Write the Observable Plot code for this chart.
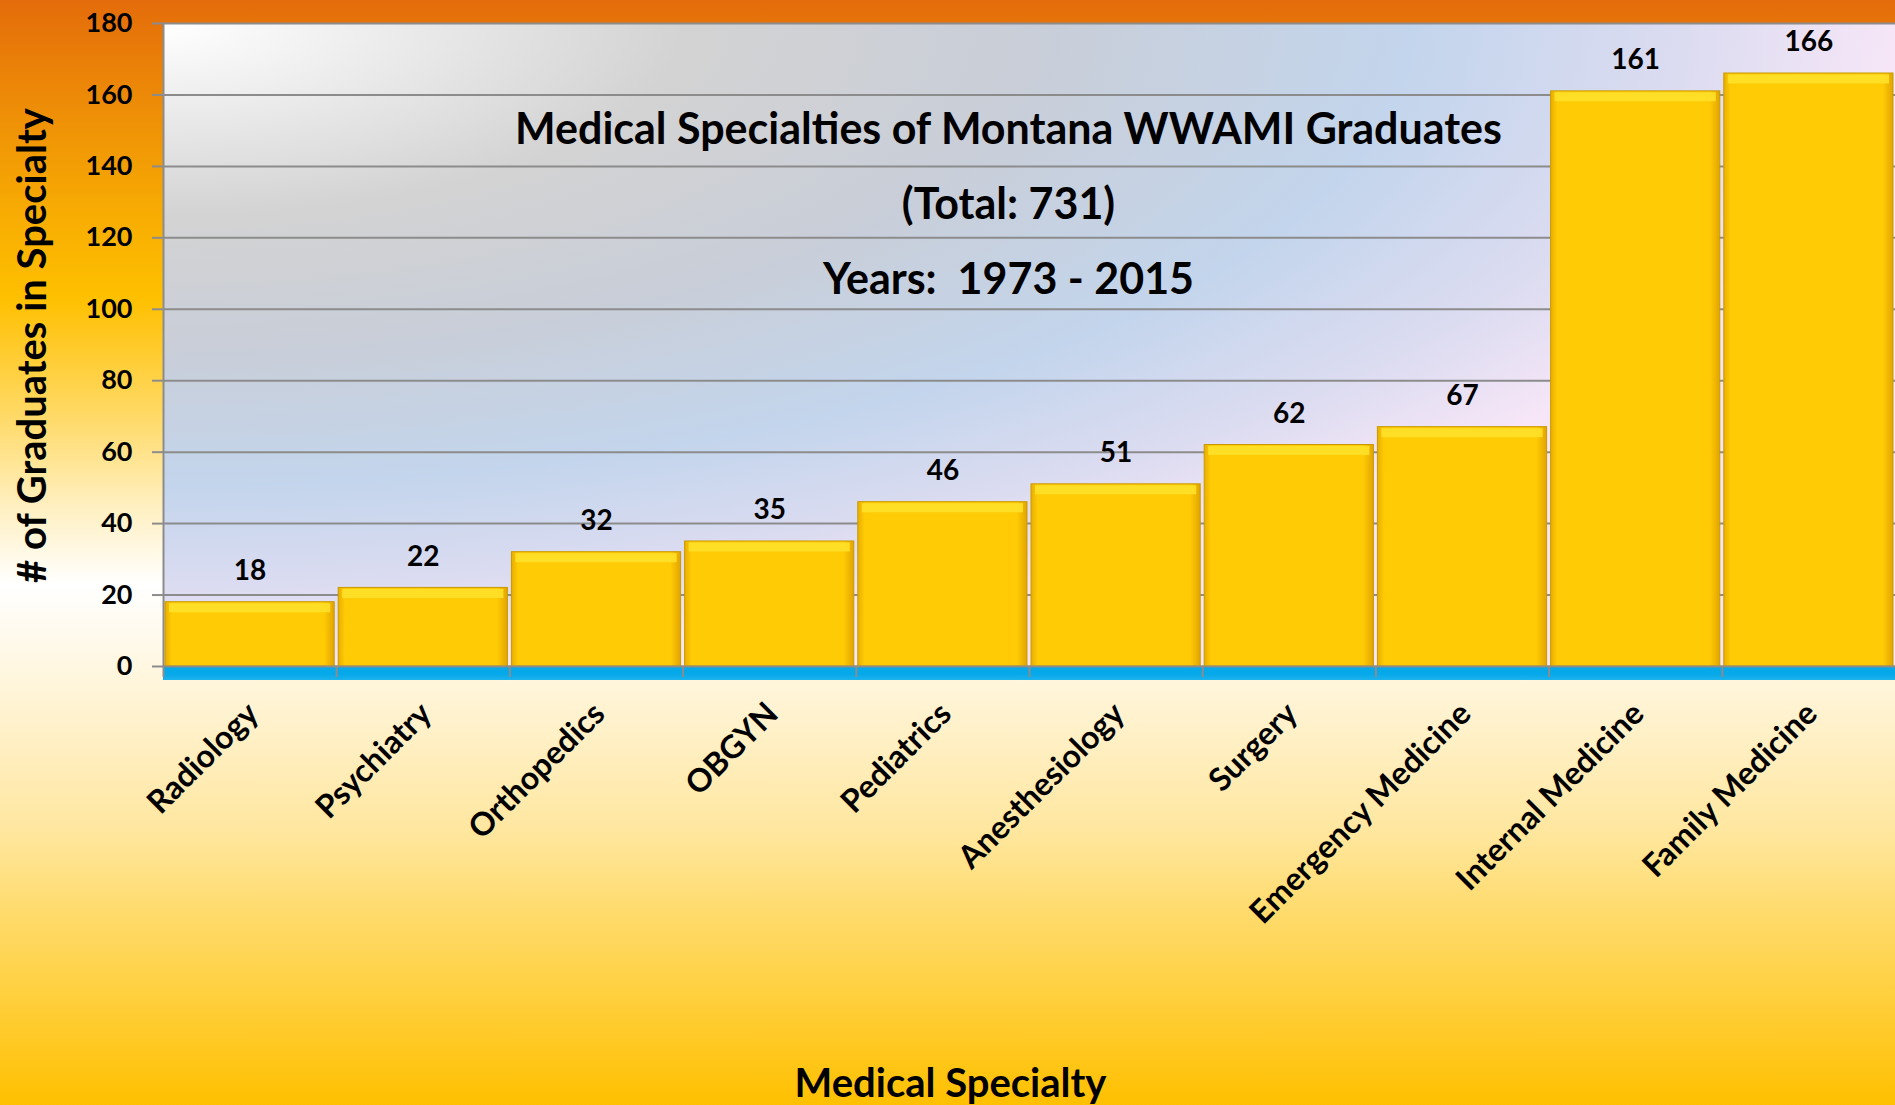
<!DOCTYPE html>
<html>
<head>
<meta charset="utf-8">
<script src="https://cdn.jsdelivr.net/npm/d3@7"></script>
<script src="https://cdn.jsdelivr.net/npm/@observablehq/plot@0.6"></script>
<style>
  html, body { margin: 0; padding: 0; overflow: hidden; }
  #chart svg text { white-space: pre; }
</style>
</head>
<body>
<div id="chart"></div>
<script>
// ---- data ----
const categories = ["Radiology", "Psychiatry", "Orthopedics", "OBGYN", "Pediatrics",
  "Anesthesiology", "Surgery", "Emergency Medicine", "Internal Medicine", "Family Medicine"];
const graduates = [18, 22, 32, 35, 46, 51, 62, 67, 161, 166];
const yTicks = [0, 20, 40, 60, 80, 100, 120, 140, 160, 180];
const titleLines = ["Medical Specialties of Montana WWAMI Graduates", "(Total: 731)", "Years:  1973 - 2015"];
const xAxisTitle = "Medical Specialty";
const yAxisTitle = "# of Graduates in Specialty";

const data = categories.map((c, i) => ({specialty: c, count: graduates[i]}));

// ---- layout ----
const W = 1895, H = 1105;
const mTop = 23, mLeft = 163, mRight = 0, mBottom = 439;
const bw = (W - mLeft - mRight) / categories.length;
const frameCx = mLeft + (W - mLeft - mRight) / 2;
const frameCy = (mTop + H - mBottom) / 2;
const grid = "#8c8c8c";
const titleCenters = [130, 205, 280];

const chart = Plot.plot({
  width: W,
  height: H,
  marginTop: mTop, marginLeft: mLeft, marginRight: mRight, marginBottom: mBottom,
  style: {
    fontFamily: "Lato, 'Open Sans', sans-serif",
    background: "linear-gradient(to bottom, #E46C0A 0%, #EE8E07 10%, #F8AE02 20%, #FFC000 27%, #FFD860 37%, #FFF0C2 46%, #FFFFFF 53%, #FFF4D6 63%, #FFE7A0 75%, #FFDC70 82%, #FFC000 100%)",
    color: "#000"
  },
  x: {type: "band", domain: categories, padding: 0, round: false, label: null},
  y: {domain: [0, 180], label: null},
  marks: [
    Plot.frame({fill: "url(#plotGrad)", stroke: null}),
    Plot.gridY({ticks: yTicks, stroke: grid, strokeOpacity: 1, strokeWidth: 2}),
    Plot.ruleY([0], {stroke: "url(#floorGrad)", strokeWidth: 13, dy: 7}),
    Plot.axisX({tickSize: 11, text: null, dx: -bw / 2, stroke: grid, strokeWidth: 2, label: null}),
    Plot.frame({anchor: "left", stroke: grid, strokeWidth: 2}),
    Plot.barY(data, {x: "specialty", y: "count", fill: "url(#barGrad)", stroke: "#C99A00", strokeWidth: 1, insetLeft: 2, insetRight: 2}),
    Plot.tickY(data, {x: "specialty", y: "count", stroke: "#FFE02A", strokeOpacity: 0.9, strokeWidth: 9, dy: 5.5, insetLeft: 6, insetRight: 6}),
    Plot.ruleY([0], {stroke: grid, strokeWidth: 2}),
    Plot.text(data, {x: "specialty", y: "count", text: d => String(d.count), dy: -31, fontSize: 28, fontWeight: "bold", fill: "#000"}),
    Plot.axisY({ticks: yTicks, tickSize: 11, tickPadding: 20, stroke: grid, strokeWidth: 2, fontSize: 27, fontWeight: "bold", fill: "#000", label: null}),
    Plot.axisX({tickSize: 0, tickRotate: -45, tickPadding: 42, dx: 3, fontSize: 32, fontWeight: "bold", fill: "#000", label: null}),
    ...titleLines.map((t, i) => Plot.text([t], {text: d => d, frameAnchor: "top", textAnchor: "middle", lineAnchor: "middle",
      dx: 1008 - frameCx, dy: titleCenters[i] - mTop, fontSize: 43, fontWeight: "bold", fill: "#000"})),
    Plot.text([xAxisTitle], {text: d => d, frameAnchor: "bottom", textAnchor: "middle", lineAnchor: "middle",
      dx: 950 - frameCx, dy: 1084 - (H - mBottom), fontSize: 40, fontWeight: "bold", fill: "#000"}),
    Plot.text([yAxisTitle], {text: d => d, frameAnchor: "left", textAnchor: "middle", lineAnchor: "middle",
      dx: 33 - mLeft, dy: 345 - frameCy, rotate: -90, fontSize: 40, fontWeight: "bold", fill: "#000"})
  ]
});

// gradients
const y0 = chart.scale("y").apply(0);
const defs = `
<defs>
  <radialGradient id="plotGrad" gradientUnits="objectBoundingBox" cx="0" cy="0" r="1" fx="0" fy="0">
    <stop offset="0" stop-color="#FFFFFF"/>
    <stop offset="0.3" stop-color="#D3D3D3"/>
    <stop offset="0.5" stop-color="#C9CED8"/>
    <stop offset="0.72" stop-color="#C3D5EC"/>
    <stop offset="0.88" stop-color="#DCDCF1"/>
    <stop offset="1" stop-color="#F6E6F7"/>
  </radialGradient>
  <linearGradient id="floorGrad" gradientUnits="userSpaceOnUse" x1="0" y1="${y0 + 0.5}" x2="0" y2="${y0 + 13.5}">
    <stop offset="0" stop-color="#05A9EA"/>
    <stop offset="0.55" stop-color="#22B4EC"/>
    <stop offset="1" stop-color="#FFF4D6" stop-opacity="0.2"/>
  </linearGradient>
  <linearGradient id="barGrad" x1="0" y1="0" x2="1" y2="0">
    <stop offset="0" stop-color="#E9AE00"/>
    <stop offset="0.04" stop-color="#FFCB05"/>
    <stop offset="0.94" stop-color="#FFCB05"/>
    <stop offset="1" stop-color="#E2A400"/>
  </linearGradient>
</defs>`;
chart.insertAdjacentHTML("afterbegin", defs);

document.getElementById("chart").appendChild(chart);
</script>
</body>
</html>
